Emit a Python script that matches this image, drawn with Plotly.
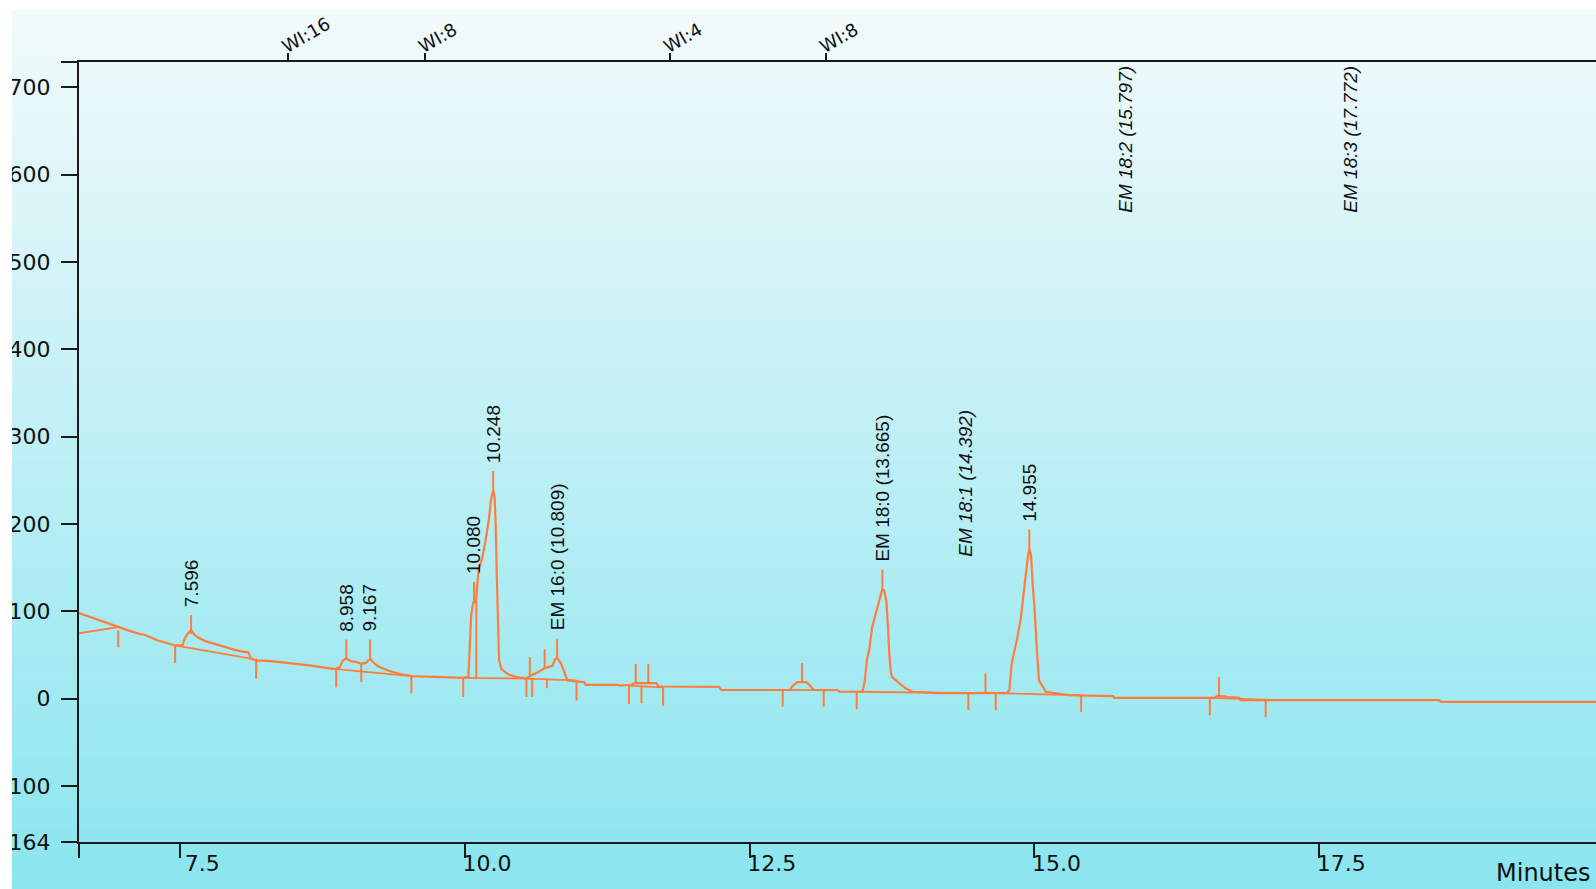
import plotly.graph_objects as go

# ---------------- data ----------------
sig_t = [6.612, 6.70, 6.80, 6.90, 6.956, 7.05, 7.15, 7.193, 7.30, 7.40, 7.456, 7.52, 7.54, 7.57, 7.596,
         7.62, 7.658, 7.72, 7.77, 7.86, 7.98, 8.05, 8.10, 8.12, 8.167, 8.30, 8.45, 8.55, 8.65, 8.75,
         8.86, 8.90, 8.93, 8.958, 9.00, 9.05, 9.09, 9.13, 9.167, 9.20, 9.24, 9.33, 9.44, 9.53, 9.70,
         9.985, 10.03, 10.04, 10.055, 10.07, 10.08, 10.09, 10.10, 10.12, 10.15, 10.18, 10.21, 10.23,
         10.248, 10.26, 10.27, 10.28, 10.29, 10.30, 10.32, 10.38, 10.45, 10.54, 10.57, 10.62, 10.65,
         10.70, 10.77, 10.79, 10.809, 10.845, 10.87, 10.90, 11.05, 11.06, 11.34, 11.36, 11.46, 11.49,
         11.68, 11.70, 12.23, 12.25, 12.85, 12.88, 12.92, 13.00, 13.03, 13.06, 13.27, 13.29, 13.49,
         13.51, 13.53, 13.55, 13.575, 13.60, 13.62, 13.65, 13.665, 13.68, 13.70, 13.715, 13.725, 13.74,
         13.75, 13.81, 13.87, 13.93, 14.05, 14.16, 14.76, 14.78, 14.80, 14.85, 14.88, 14.91, 14.94,
         14.955, 14.97, 14.985, 15.00, 15.02, 15.04, 15.10, 15.20, 15.30, 15.69, 15.70, 16.58, 16.60,
         16.66, 16.70, 16.80, 16.81, 18.55, 18.57, 19.93]
sig_v = [98, 94, 89, 85, 82, 78, 74, 73, 67, 63, 61, 61, 69, 75, 79,
         74, 70, 66, 64, 61, 56, 54, 53, 46, 44, 43, 41, 40, 38, 36,
         34, 36, 44, 46, 43, 42, 40, 41, 46, 41, 37, 32, 28, 26, 25,
         24, 25, 60, 95, 108, 112, 110, 115, 148, 160, 180, 205, 228,
         239, 232, 200, 140, 75, 44, 34, 28, 25, 23, 26, 29, 31,
         35, 38, 45, 47, 40, 31, 21, 19, 16, 16, 15, 16, 18,
         18, 14, 13.5, 10, 10, 15, 19, 19, 15, 10, 10, 8, 8,
         20, 45, 56, 82, 95, 105, 118, 126, 124, 112, 80, 52, 30,
         25, 18, 12, 8, 7, 6.5, 6.5, 10, 40, 70, 92, 128, 160,
         172, 165, 130, 105, 59, 21, 8, 6, 4, 3, 1, 1, 3,
         3, 2, 1, -1.5, -1.5, -3.5, -3.5]

# integration baselines (start time/value -> end time/value)
base_t0 = [6.612, 7.456, 8.87, 9.985, 10.54, 11.44, 12.85, 13.44, 14.66, 16.54]
base_v0 = [75, 61, 34, 24, 23, 15, 10, 8, 6.5, 1]
base_t1 = [6.956, 8.12, 9.53, 10.54, 10.98, 11.74, 13.06, 14.42, 15.41, 17.03]
base_v1 = [82, 46, 26, 23, 21, 13, 10, 6.5, 4, -1]

# peak start/stop event marks (time, top value, bottom value)
ev_t = [6.956, 7.456, 8.167, 8.87, 9.09, 9.53, 9.985, 10.10, 10.54, 10.59, 10.72, 10.98, 11.44,
        11.55, 11.74, 12.79, 13.15, 13.44, 14.42, 14.66, 15.41, 16.54, 17.03]
ev_top = [78, 61, 46, 35, 40, 27, 24, 113, 23, 23, 23, 21, 15, 15, 13, 10, 10, 8, 6.5, 6, 4, 1, -1]
ev_bot = [59, 41, 23, 13, 19, 6, 2, 23, 2, 2, 12, -2, -6, -5, -8, -9, -9, -12, -13, -13, -15, -19, -21]

# labelled peaks
peak_t = [7.596, 8.958, 9.167, 10.080, 10.248, 10.809, 13.665, 14.955]
peak_h = [74, 46, 46, 112, 239, 47, 126, 172]
peak_names = ["7.596", "8.958", "9.167", "10.080", "10.248", "EM 16:0 (10.809)",
              "EM 18:0 (13.665)", "14.955"]

# small unlabelled apex marks
minor_t = [10.57, 10.70, 11.50, 11.61, 12.96, 14.57, 16.62]
minor_h = [26, 35, 18, 18, 19, 7, 3]

# expected (missing) named peaks
miss_t = [14.392, 15.797, 17.772]
miss_names = ["EM 18:1 (14.392)", "EM 18:2 (15.797)", "EM 18:3 (17.772)"]
miss_v = [160, None, None]

# integration events on top axis
evt_t = [8.448, 9.648, 11.80, 13.17]
evt_names = ["WI:16", "WI:8", "WI:4", "WI:8"]

x_ticks = [7.5, 10.0, 12.5, 15.0, 17.5]
x_ticktext = ["7.5", "10.0", "12.5", "15.0", "17.5"]
y_ticks = [-164, -100, 0, 100, 200, 300, 400, 500, 600, 700]
y_ticktext = ["-164", "-100", "0", "100", "200", "300", "400", "500", "600", "700"]

X_MIN, X_MAX = 6.612, 19.93
Y_MIN, Y_MAX = -164, 729

# ---------------- layout constants ----------------
W, H = 1596, 889
M_L, M_T, M_B, M_R = 79, 62, 47, 0
PW = W - M_L - M_R
PH = H - M_T - M_B
UNITS_PER_PX = (Y_MAX - Y_MIN) / PH
APEX_PX = 19
ORANGE = "#ff7d3c"
AXC = "#1a1a1a"


def px_x(px):
    return (px - M_L) / PW


def px_y(py):
    return (H - M_B - py) / PH


fig = go.Figure()

# main signal
fig.add_trace(go.Scatter(x=sig_t, y=sig_v, mode="lines",
                         line=dict(color=ORANGE, width=2.2), hoverinfo="skip"))

# baselines
bx, by = [], []
for t0, v0, t1, v1 in zip(base_t0, base_v0, base_t1, base_v1):
    bx += [t0, t1, None]
    by += [v0, v1, None]
fig.add_trace(go.Scatter(x=bx, y=by, mode="lines",
                         line=dict(color=ORANGE, width=1.8), hoverinfo="skip"))

# event (start/stop) marks
ex, ey = [], []
for t, a, b in zip(ev_t, ev_top, ev_bot):
    ex += [t, t, None]
    ey += [a, b, None]
# apex marks
for t, h in zip(peak_t + minor_t, peak_h + minor_h):
    ex += [t, t, None]
    ey += [h, h + APEX_PX * UNITS_PER_PX, None]
fig.add_trace(go.Scatter(x=ex, y=ey, mode="lines",
                         line=dict(color=ORANGE, width=2), hoverinfo="skip"))

ann = []
LBL_FONT = dict(family="Liberation Sans, Arial, sans-serif", size=19, color="#111")
for t, h, name in zip(peak_t, peak_h, peak_names):
    ann.append(dict(x=t, y=h, xref="x", yref="y", text=name, showarrow=False,
                    textangle=-90, xanchor="center", yanchor="bottom",
                    yshift=APEX_PX + 6, font=LBL_FONT))
for t, v, name in zip(miss_t, miss_v, miss_names):
    if v is not None:
        ann.append(dict(x=t, y=v, xref="x", yref="y", text="<i>" + name + "</i>",
                        showarrow=False, textangle=-90, xanchor="center",
                        yanchor="bottom", font=LBL_FONT))
    else:
        ann.append(dict(x=t, y=1, xref="x", yref="paper", text="<i>" + name + "</i>",
                        showarrow=False, textangle=-90, xanchor="center",
                        yanchor="top", yshift=-2, font=LBL_FONT))

ann.append(dict(x=px_x(1592), y=px_y(873), xref="paper", yref="paper", text="Minutes",
                showarrow=False, xanchor="right", yanchor="middle",
                font=dict(family="DejaVu Sans", size=24, color="#111")))

# background gradient bands + white crop strips
shapes = []
N = 90
top_c = (242, 250, 251)
bot_c = (138, 229, 239)
y_top_px, y_bot_px = 10, H
for i in range(N):
    f = (i + 0.5) / N
    c = tuple(round(top_c[k] + (bot_c[k] - top_c[k]) * f) for k in range(3))
    p0 = y_top_px + (y_bot_px - y_top_px) * i / N
    p1 = y_top_px + (y_bot_px - y_top_px) * (i + 1) / N
    shapes.append(dict(type="rect", xref="paper", yref="paper", layer="below",
                       x0=px_x(12), x1=px_x(W + 2), y0=px_y(p1 + 0.6), y1=px_y(p0),
                       fillcolor="rgb(%d,%d,%d)" % c, line=dict(width=0)))
shapes.append(dict(type="rect", xref="paper", yref="paper", layer="above",
                   x0=px_x(-2), x1=px_x(12), y0=px_y(H + 2), y1=px_y(-2),
                   fillcolor="white", line=dict(width=0)))
shapes.append(dict(type="rect", xref="paper", yref="paper", layer="above",
                   x0=px_x(-2), x1=px_x(W + 2), y0=px_y(10), y1=px_y(-2),
                   fillcolor="white", line=dict(width=0)))

AX_FONT = dict(family="DejaVu Sans", size=22, color="#111")

fig.update_layout(
    width=W, height=H,
    margin=dict(l=M_L, r=M_R, t=M_T, b=M_B, pad=0),
    paper_bgcolor="white", plot_bgcolor="rgba(0,0,0,0)",
    showlegend=False,
    annotations=ann, shapes=shapes,
    xaxis=dict(range=[X_MIN, X_MAX], tickmode="array",
               tickvals=[X_MIN + 0.004] + x_ticks, ticktext=[""] + x_ticktext,
               ticks="outside", ticklen=14, tickwidth=2, tickcolor=AXC,
               showline=True, linecolor=AXC, linewidth=2,
               showgrid=False, zeroline=False, tickfont=AX_FONT,
               ticklabelshift=22, ticklabelstandoff=-13),
    xaxis2=dict(range=[X_MIN, X_MAX], overlaying="x", side="top", anchor="y",
                tickmode="array", tickvals=evt_t, ticktext=evt_names,
                ticks="outside", ticklen=7, tickwidth=2, tickcolor=AXC,
                tickangle=-30, showline=True, linecolor=AXC, linewidth=2,
                showgrid=False, zeroline=False,
                ticklabelshift=-6, ticklabelstandoff=-9,
                tickfont=dict(family="DejaVu Sans", size=18, color="#111")),
    yaxis=dict(range=[Y_MIN, Y_MAX], tickmode="array",
               tickvals=y_ticks + [Y_MAX - 0.5], ticktext=y_ticktext + [""],
               ticks="outside", ticklen=16, tickwidth=2, tickcolor=AXC,
               showline=True, linecolor=AXC, linewidth=2,
               showgrid=False, zeroline=False, tickfont=AX_FONT,
               ticklabelstandoff=6),
)

# invisible trace so the top axis is drawn
fig.add_trace(go.Scatter(x=[X_MIN], y=[0], xaxis="x2", mode="markers",
                         marker=dict(opacity=0), hoverinfo="skip"))

fig.write_html("out.html", config={"displayModeBar": False},
               post_script="document.body.style.margin='0';document.body.style.overflow='hidden';")
